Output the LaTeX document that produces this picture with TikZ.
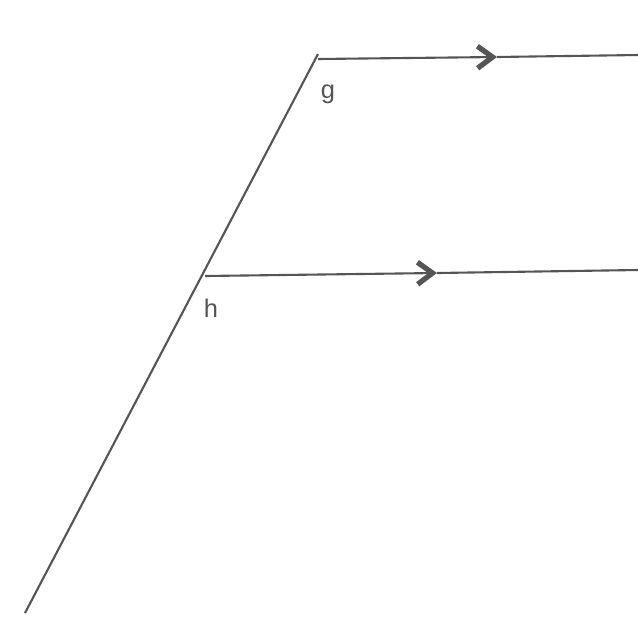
\documentclass[tikz,border=0pt]{standalone}
\usepackage{fontspec}
\setmainfont{Liberation Sans}
\usetikzlibrary{arrows.meta}
\definecolor{linegray}{HTML}{555555}
\tikzset{
	ray/.style={draw=linegray, line width=1.2pt},
	midtip/.style={ray, -{Straight Barb[length=3mm, width=4.4mm, line width=3pt]}},
	lbl/.style={text=linegray, font=\fontsize{14.5}{17}\selectfont, inner sep=0pt}
}
\begin{document}
\begin{tikzpicture}[x=0.02cm, y=-0.02cm]
	\useasboundingbox (0,0) rectangle (638,626);
	\coordinate (top)   at (318,54);
	\coordinate (bot)   at (25,613);
	\coordinate (g)     at (318,59);
	\coordinate (gmid)  at (497,57);
	\coordinate (gend)  at (638,55);
	\coordinate (h)     at (205,276);
	\coordinate (hmid)  at (437,273);
	\coordinate (hend)  at (638,270);
	\node[lbl] (glabel) at (328,94)  {g};
	\node[lbl] (hlabel) at (211,308) {h};
	\draw[ray] (top) -- (bot);
	\draw[midtip] (g) -- (gmid);
	\draw[ray] (gmid) -- (gend);
	\draw[midtip] (h) -- (hmid);
	\draw[ray] (hmid) -- (hend);
\end{tikzpicture}
\end{document}
